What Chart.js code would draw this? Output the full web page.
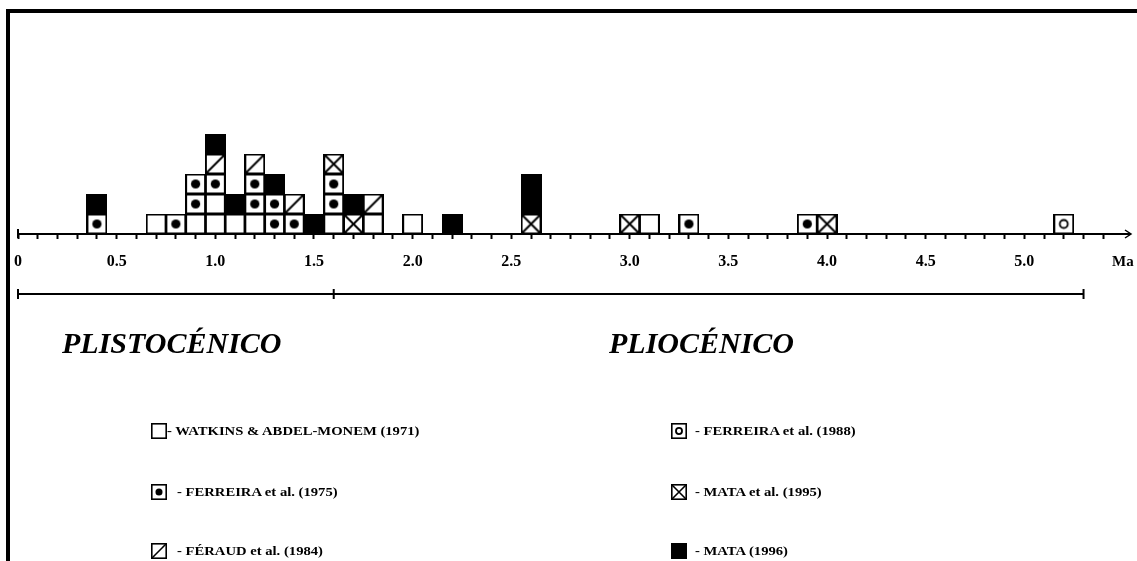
<!DOCTYPE html>
<html>
<head>
<meta charset="utf-8">
<script src="https://cdn.jsdelivr.net/npm/chart.js@4.4.1/dist/chart.umd.min.js"></script>
<style>
  html, body { margin: 0; padding: 0; background: #fff; }
  body { width: 1137px; height: 561px; position: relative; overflow: hidden;
         font-family: 'Liberation Serif', 'Times New Roman', serif; color: #000; }
  #frame { position: absolute; left: 6px; top: 9px; right: 0; bottom: 0;
           border-top: 4px solid #000; border-left: 4px solid #000; }
  #chart { position: absolute; left: 0; top: 0; }
  .txt { position: absolute; white-space: pre; font-weight: bold; transform-origin: 0 50%; }
  .epoch { font-style: italic; font-size: 30px; line-height: 30px; }
  .unit { font-size: 15px; line-height: 15px; }
  .leg { position: absolute; height: 16px; }
  .leg canvas { position: absolute; left: 0; top: 0; }
  .leg span { position: absolute; top: 2px; font-size: 12px; line-height: 12px; font-weight: bold;
              white-space: pre; transform: scaleX(1.22); transform-origin: 0 50%; }
</style>
</head>
<body>
<div id="frame"></div>
<canvas id="chart" width="1137" height="561"></canvas>
<div class="txt unit" style="left:1112px; top:254px;">Ma</div>
<div class="txt epoch" id="ep0"></div>
<div class="txt epoch" id="ep1"></div>
<div id="legend"></div>
<script>
// Axis positions along the time line (Ma); the drawn scale has one extra step before 3.0
const tickLabels = [
  '0','0.1','0.2','0.3','0.4','0.5','0.6','0.7','0.8','0.9',
  '1.0','1.1','1.2','1.3','1.4','1.5','1.6','1.7','1.8','1.9',
  '2.0','2.1','2.2','2.3','2.4','2.5','2.6','2.7','2.8','2.9',
  '',
  '3.0','3.1','3.2','3.3','3.4','3.5','3.6','3.7','3.8','3.9',
  '4.0','4.1','4.2','4.3','4.4','4.5','4.6','4.7','4.8','4.9',
  '5.0','5.1','5.2','5.3','5.4','5.5'
];
const majorTicks = ['0','0.5','1.0','1.5','2.0','2.5','3.0','3.5','4.0','4.5','5.0'];

// Radiometric ages (Ma), one entry per dated sample
const watkins1971  = [0.7, 0.9, 1.0, 1.0, 1.1, 1.2, 1.6, 1.8, 2.0, 3.1];
const ferreira1975 = [0.4, 0.8, 0.9, 0.9, 1.0, 1.2, 1.2, 1.3, 1.3, 1.4, 1.6, 1.6, 3.3, 3.9];
const feraud1984   = [1.0, 1.2, 1.4, 1.8];
const mata1995     = [1.6, 1.7, 2.6, 3.0, 4.0];
const ferreira1988 = [5.2];
const mata1996     = [0.4, 1.0, 1.1, 1.3, 1.5, 1.7, 2.2, 2.6, 2.6];

const sourceLabels = [
  '- WATKINS & ABDEL-MONEM (1971)',
  '- FERREIRA et al. (1975)',
  '- FÉRAUD et al. (1984)',
  '- MATA et al. (1995)',
  '- FERREIRA et al. (1988)',
  '- MATA (1996)'
];

// Epochs and their boundaries (Ma)
const epochNames = ['PLISTOCÉNICO', 'PLIOCÉNICO'];
const epochBounds = [0, 1.6, 5.3];

const label = v => v === 0 ? '0' : v.toFixed(1);

function drawGlyph(ctx, kind, s, lw) {
  const h = lw / 2;
  ctx.fillStyle = kind === 'filled' ? '#000' : '#fff';
  ctx.fillRect(0, 0, s, s);
  ctx.strokeStyle = '#000';
  ctx.lineWidth = lw;
  ctx.strokeRect(h, h, s - lw, s - lw);
  const c = s / 2;
  if (kind === 'dot') {
    ctx.beginPath(); ctx.arc(c, c, s * 0.22, 0, Math.PI * 2);
    ctx.fillStyle = '#000'; ctx.fill();
  } else if (kind === 'slash') {
    ctx.beginPath(); ctx.moveTo(h, s - h); ctx.lineTo(s - h, h); ctx.stroke();
  } else if (kind === 'cross') {
    ctx.beginPath();
    ctx.moveTo(h, s - h); ctx.lineTo(s - h, h);
    ctx.moveTo(h, h); ctx.lineTo(s - h, s - h);
    ctx.stroke();
  } else if (kind === 'ring') {
    ctx.beginPath(); ctx.arc(c, c, s * 0.19, 0, Math.PI * 2);
    ctx.lineWidth = 1.8; ctx.stroke();
  }
}

function glyphCanvas(kind, s, lw) {
  const cv = document.createElement('canvas');
  cv.width = s; cv.height = s;
  drawGlyph(cv.getContext('2d'), kind, s, lw);
  return cv;
}

// Stacking order, bottom to top, within each age column
const sources = [
  { ages: watkins1971,  glyph: 'empty',  label: sourceLabels[0] },
  { ages: ferreira1975, glyph: 'dot',    label: sourceLabels[1] },
  { ages: feraud1984,   glyph: 'slash',  label: sourceLabels[2] },
  { ages: mata1995,     glyph: 'cross',  label: sourceLabels[3] },
  { ages: ferreira1988, glyph: 'ring',   label: sourceLabels[4] },
  { ages: mata1996,     glyph: 'filled', label: sourceLabels[5] }
];

const columnCount = {};
const datasets = sources.map(src => {
  const pts = src.ages.map(a => {
    const key = label(a);
    const level = columnCount[key] || 0;
    columnCount[key] = level + 1;
    return { x: key, y: level + 0.5 };
  });
  return {
    type: 'scatter',
    label: src.label,
    data: pts,
    pointStyle: glyphCanvas(src.glyph, 21, 2),
    pointRadius: 10,
    clip: false
  };
});

const EPOCH_ROW = -3;
datasets.push({
  type: 'line',
  label: 'epochs',
  data: epochBounds.map(b => ({ x: label(b), y: EPOCH_ROW })),
  borderColor: '#000',
  borderWidth: 2,
  pointStyle: 'line',
  pointRotation: 90,
  pointRadius: 5,
  pointBorderWidth: 2,
  pointBorderColor: '#000',
  clip: false
});

const axisEnds = {
  id: 'axisEnds',
  afterDraw(chart) {
    const { ctx, chartArea } = chart;
    const xs = chart.scales.x, ys = chart.scales.y;
    const py = ys.getPixelForValue(0);
    const x0 = xs.getPixelForValue(0);
    ctx.save();
    ctx.strokeStyle = '#000';
    ctx.lineWidth = 2;
    ctx.beginPath(); ctx.moveTo(x0, py - 5); ctx.lineTo(x0, py + 4); ctx.stroke();
    const tip = chartArea.right + 8;
    ctx.beginPath(); ctx.moveTo(chartArea.right, py); ctx.lineTo(tip, py); ctx.stroke();
    ctx.lineWidth = 1.5;
    ctx.beginPath(); ctx.moveTo(tip - 6, py - 4); ctx.lineTo(tip, py); ctx.lineTo(tip - 6, py + 4); ctx.stroke();
    ctx.restore();
  }
};

const chart = new Chart(document.getElementById('chart'), {
  type: 'scatter',
  data: { labels: tickLabels, datasets },
  options: {
    responsive: false,
    devicePixelRatio: 1,
    animation: false,
    events: [],
    layout: { padding: { left: 17, right: 9, top: 34, bottom: 237 } },
    plugins: { legend: { display: false }, tooltip: { enabled: false } },
    scales: {
      x: {
        type: 'category',
        labels: tickLabels,
        offset: false,
        position: { y: 0 },
        afterFit: s => { s.height = 0; },
        grid: {
          display: true,
          drawOnChartArea: false,
          drawTicks: true,
          tickLength: 4,
          tickWidth: 2,
          tickColor: c => (c.index === tickLabels.length - 1 ? 'rgba(0,0,0,0)' : '#000')
        },
        border: { display: true, color: '#000', width: 2 },
        ticks: {
          autoSkip: false,
          maxRotation: 0,
          minRotation: 0,
          padding: 14,
          color: '#000',
          font: { family: "'Liberation Serif', 'Times New Roman', serif", size: 16, weight: 'bold' },
          callback: function (value) {
            const l = this.getLabelForValue(value);
            return majorTicks.includes(l) ? l : '';
          }
        }
      },
      y: { type: 'linear', display: false, min: -4.5, max: 10 }
    }
  },
  plugins: [axisEnds]
});

// Epoch names
const ep0 = document.getElementById('ep0');
ep0.textContent = epochNames[0];
ep0.style.left = '62px'; ep0.style.top = '328px';
const ep1 = document.getElementById('ep1');
ep1.textContent = epochNames[1];
ep1.style.left = '609px'; ep1.style.top = '328px';

// Legend, two columns of three
const legendSlots = [
  { src: 0, left: 151, top: 423, textLeft: 16 },
  { src: 1, left: 151, top: 484, textLeft: 26 },
  { src: 2, left: 151, top: 543, textLeft: 26 },
  { src: 4, left: 671, top: 423, textLeft: 24 },
  { src: 3, left: 671, top: 484, textLeft: 24 },
  { src: 5, left: 671, top: 543, textLeft: 24 }
];
const legend = document.getElementById('legend');
legendSlots.forEach(slot => {
  const src = sources[slot.src];
  const item = document.createElement('div');
  item.className = 'leg';
  item.style.left = slot.left + 'px';
  item.style.top = slot.top + 'px';
  item.appendChild(glyphCanvas(src.glyph, 16, 1.6));
  const sp = document.createElement('span');
  sp.textContent = src.label;
  sp.style.left = slot.textLeft + 'px';
  item.appendChild(sp);
  legend.appendChild(item);
});
</script>
</body>
</html>
